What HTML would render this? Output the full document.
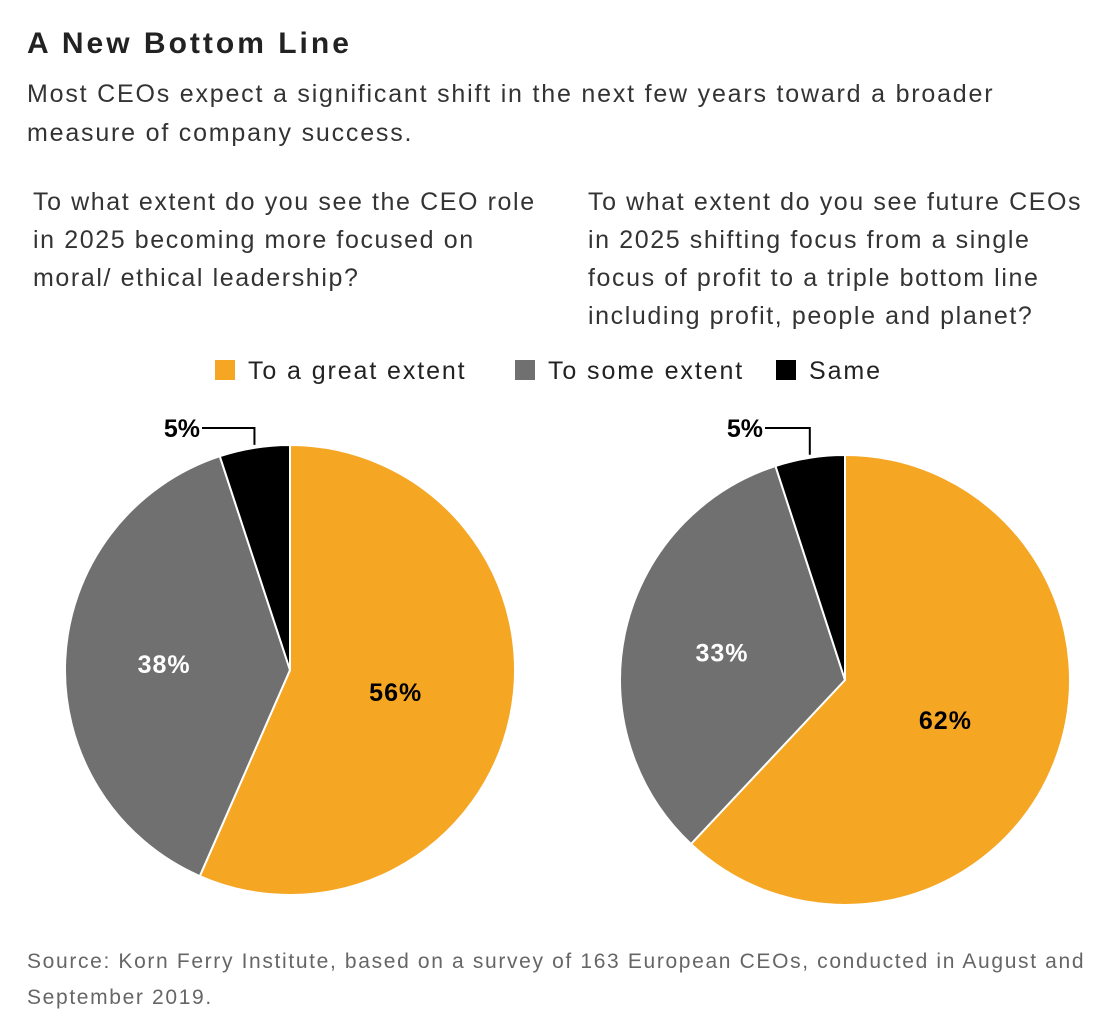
<!DOCTYPE html>
<html><head><meta charset="utf-8">
<style>
body{margin:0;background:#fff;width:1120px;height:1026px;overflow:hidden;font-family:"Liberation Sans",sans-serif;color:#222}
.t{position:absolute;white-space:nowrap}
</style></head>
<body>
<div class="t" style="left:27px;top:27px;font-size:30px;font-weight:bold;color:#222;letter-spacing:3px">A New Bottom Line</div>
<div class="t" style="left:27px;top:75px;font-size:25px;line-height:39px;color:#333;letter-spacing:1.8px">Most CEOs expect a significant shift in the next few years toward a broader<br>measure of company success.</div>
<div class="t" style="left:33px;top:183px;font-size:25px;line-height:38px;color:#333;letter-spacing:1.6px">To what extent do you see the CEO role<br>in 2025 becoming more focused on<br>moral/ ethical leadership?</div>
<div class="t" style="left:588px;top:183px;font-size:25px;line-height:38px;color:#333;letter-spacing:1.6px">To what extent do you see future CEOs<br>in 2025 shifting focus from a single<br>focus of profit to a triple bottom line<br>including profit, people and planet?</div>
<svg id="chart" width="1120" height="1026" style="position:absolute;left:0;top:0"></svg>
<div class="t" style="left:27px;top:944px;font-size:21px;line-height:36px;color:#666;letter-spacing:1.65px">Source: Korn Ferry Institute, based on a survey of 163 European CEOs, conducted in August and<br>September 2019.</div>
<script>
const categories=["To a great extent","To some extent","Same"];
const colors=["#f5a623","#707070","#000000"];
const leftValues=[56,38,5];
const rightValues=[62,33,5];
const NS="http://www.w3.org/2000/svg";
const svg=document.getElementById('chart');
function mk(tag,attrs,parent){const e=document.createElementNS(NS,tag);for(const k in attrs)e.setAttribute(k,attrs[k]);(parent||svg).appendChild(e);return e;}
const legX=[215,515,776];
categories.forEach((c,i)=>{
  const r=mk('rect',{x:legX[i],y:360,width:20,height:20,fill:colors[i]});
  
  
  const t=mk('text',{x:legX[i]+33,y:379,'font-size':25,fill:'#222','letter-spacing':1.9,'font-family':'Liberation Sans, sans-serif'});
  t.textContent=c;
  
  
});
function pie(cx,cy,r,vals,name,smallLabel){
  const total=vals.reduce((a,b)=>a+b,0);
  let a0=0;
  const pt=(a,rr)=>[cx+rr*Math.sin(a),cy-rr*Math.cos(a)];
  vals.forEach((v,i)=>{
    const a1=a0+v/total*2*Math.PI;
    const p0=pt(a0,r),p1=pt(a1,r);
    const large=(a1-a0)>Math.PI?1:0;
    const p=mk('path',{d:`M${cx},${cy}L${p0[0]},${p0[1]}A${r},${r} 0 ${large} 1 ${p1[0]},${p1[1]}Z`,fill:colors[i],stroke:'#fff','stroke-width':2});
    
    
    const mid=(a0+a1)/2;
    if(i<2){
      const lp=pt(mid,r*(i==0?0.48:0.56));
      const t=mk('text',{x:lp[0],y:lp[1]+9,'font-size':25,'font-weight':'bold','letter-spacing':1,'text-anchor':'middle',fill:i==1?'#fff':'#000','font-family':'Liberation Sans, sans-serif'});
      t.textContent=v+'%';
      
      
    } else {
      const ep=pt(mid,r);
      const ly=428;
      const lx=smallLabel;
      const l=mk('path',{d:`M${lx+40},${ly}H${ep[0]}V${ep[1]-3}`,fill:'none',stroke:'#000','stroke-width':2});
      
      
      const t=mk('text',{x:lx+38,y:ly+9,'font-size':25,'font-weight':'bold','text-anchor':'end',fill:'#000','font-family':'Liberation Sans, sans-serif'});
      t.textContent=v+'%';
      
      
    }
    a0=a1;
  });
}
pie(290,670,225,leftValues,'left-pie',162);
pie(845,680,225,rightValues,'right-pie',725);
</script>
</body></html>
